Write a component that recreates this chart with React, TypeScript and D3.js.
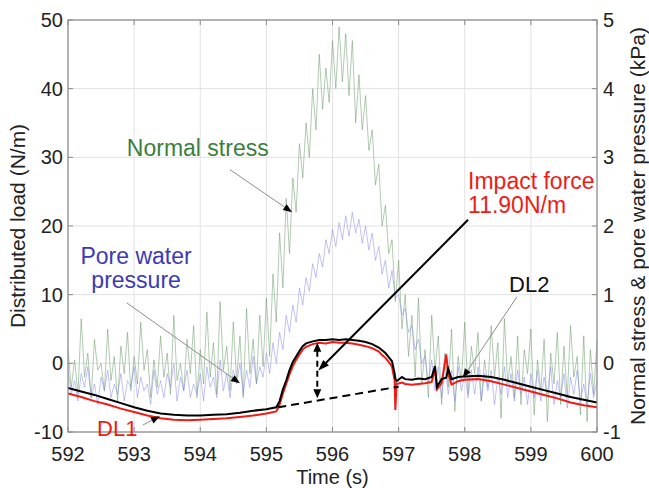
import React from 'react';
import * as d3 from 'd3';

// ---------------- data ----------------
const timeTicks = [592, 593, 594, 595, 596, 597, 598, 599, 600];
const loadTicks = [-10, 0, 10, 20, 30, 40, 50];
const kpaTicks = [-1, 0, 1, 2, 3, 4, 5];

// sampled sensor traces (kPa), one value every 0.05 s from 592.00 s
const noiseStart = 592;
const noiseStep = 0.05;
const normalStress = [
  0.2, -0.35, 0.05, -0.45, 0.65, -0.2, 0.15, -0.5, 0.35, -0.1,
  0.0, -0.4, 0.5, -0.25, 0.1, -0.55, 0.25, -0.15, 0.45, -0.4,
  0.1, -0.3, 0.6, -0.1, 0.2, -0.5, 0.05, -0.35, 0.4, -0.2,
  0.15, -0.45, 0.7, -0.25, 0.0, -0.4, 0.35, -0.15, 0.55, -0.5,
  0.2, -0.3, 0.75, -0.2, 0.3, -0.45, 0.9, -0.1, 0.25, -0.4,
  0.6, -0.25, 0.4, -0.5, 0.8, -0.15, 0.35, -0.3, 0.7, -0.05,
  0.95,
  0.1, 1.3, 0.6, 1.9, 1.1, 2.4, 1.6, 2.7, 2.2,
  3.2, 2.7, 3.5, 3.0, 4.0, 3.4, 4.5, 3.7, 4.3, 3.8,
  4.7, 4.0, 4.9, 4.1, 4.8, 3.9, 4.7, 3.5, 4.2, 3.4,
  3.9, 3.1, 3.4, 2.6, 2.9, 2.0, 2.3, 1.6, 1.8, 0.9,
  1.5, 0.5, 1.0, 0.1, 0.7, -0.2,
  0.95, -0.3, 0.2, -0.5, 0.7, -0.1, 0.4, -0.6, 0.15, -0.35,
  0.5, -0.7, 0.1, -0.25, 0.6, -0.45, 0.25, -0.15, 0.45, -0.55,
  0.05, -0.35, 0.55, -0.2, 0.3, -0.8, 0.65, -0.3, 0.1, -0.5,
  0.4, -0.6, 0.2, -0.15, 0.5, -0.75, 0.05, -0.4, 0.35, -0.85,
  0.15, -0.3, 0.45, -0.6, 0.25, -0.5, 0.55, -0.2, 0.1, -0.75,
  0.4, -0.85, 0.2, -0.45, 0.35,
];
const poreWater = [
  -0.1, -0.45, -0.25, -0.55, -0.15, -0.35, -0.05, -0.5, -0.3, -0.6,
  -0.2, -0.4, -0.1, -0.5, -0.3, -0.45, -0.15, -0.55, -0.25, -0.35,
  -0.05, -0.5, -0.2, -0.4, -0.3, -0.6, -0.1, -0.45, -0.25, -0.5,
  -0.15, -0.35, 0.0, -0.55, -0.2, -0.4, -0.1, -0.5, -0.3, -0.45,
  -0.15, -0.55, -0.05, -0.35, -0.2, -0.5, 0.05, -0.4, -0.15, -0.5,
  -0.1, -0.3, 0.0, -0.45, -0.1, -0.35, 0.1, -0.3, -0.05, -0.2,
  0.15,
  -0.15, 0.3, 0.0, 0.45, 0.2, 0.7, 0.45, 0.85, 0.6, 1.1,
  0.85, 1.25, 1.05, 1.45, 1.25, 1.6, 1.4, 1.8, 1.6, 1.95,
  1.7, 2.05, 1.8, 2.15, 1.85, 2.2, 1.9, 2.1, 1.75, 2.0,
  1.65, 1.9, 1.5, 1.7, 1.3, 1.5, 1.1, 1.35, 0.95, 1.0,
  0.7, 0.8, 0.45, 0.55, 0.2, 0.35, 0.0, 0.1, -0.3, 0.05,
  -0.4, -0.05, -0.5, 0.0, -0.45, -0.1, -0.55, -0.05, -0.4, -0.15,
  -0.5, -0.1, -0.45, -0.05, -0.55, -0.15, -0.4, -0.1, -0.6, -0.2,
  -0.45, -0.05, -0.5, -0.15, -0.55, -0.1, -0.45, -0.2, -0.6, -0.15,
  -0.5, -0.1, -0.55, -0.2, -0.45, -0.05, -0.6, -0.25, -0.5, -0.15,
  -0.65, -0.2, -0.45, -0.1, -0.55, -0.3, -0.6, -0.15, -0.5, -0.25,
];

// distributed loads (N/m)
const dlTime = [
  592.0, 592.2, 592.4, 592.6, 592.8, 593.0, 593.2, 593.4, 593.6, 593.8,
  594.0, 594.2, 594.4, 594.6, 594.8, 595.0, 595.15, 595.2, 595.25, 595.3,
  595.35, 595.4, 595.45, 595.5, 595.55, 595.6, 595.7, 595.8, 595.9, 596.0,
  596.1, 596.2, 596.3, 596.4, 596.5, 596.6, 596.7, 596.75, 596.8, 596.85,
  596.9, 596.94, 596.95, 596.97, 597.05, 597.1, 597.2, 597.3, 597.4, 597.5,
  597.55, 597.58, 597.65, 597.72, 597.75, 597.8, 597.9, 598.0, 598.2, 598.4,
  598.6, 598.8, 599.0, 599.2, 599.4, 599.6, 599.8, 600.0,
];
const dl2 = [
  -3.6, -4.1, -4.6, -5.2, -5.8, -6.4, -6.9, -7.3, -7.5, -7.6,
  -7.6, -7.5, -7.4, -7.2, -6.9, -6.7, -6.4, -5.5, -3.8, -2.5,
  -1.0, 0.2, 1.0, 1.8, 2.5, 2.9, 3.2, 3.4, 3.4, 3.5,
  3.4, 3.5, 3.4, 3.3, 3.1, 2.8, 2.3, 1.9, 1.5, 0.9,
  0.3, -1.5, -2.2, -2.6, -2.0, -2.3, -2.4, -2.2, -2.3, -2.0,
  -0.4, -3.4, -2.3, -2.1, -0.8, -2.3, -2.0, -1.9, -1.8, -2.0,
  -2.4, -2.9, -3.4, -3.9, -4.4, -4.9, -5.3, -5.7,
];
const dl1 = [
  -4.4, -4.9, -5.5, -6.0, -6.6, -7.1, -7.6, -8.0, -8.2, -8.3,
  -8.2, -8.1, -8.0, -7.8, -7.6, -7.3, -7.0, -6.0, -4.4, -3.0,
  -1.6, -0.4, 0.5, 1.3, 2.0, 2.4, 2.8, 3.0, 2.9, 3.1,
  3.0, 3.0, 2.9, 2.7, 2.5, 2.2, 1.7, 1.2, 0.8, 0.2,
  -0.5, -2.5, -6.8, -3.0, -2.8, -3.0, -3.1, -3.0, -2.9, -2.7,
  -0.8, -3.8, -2.9, 1.3, -1.5, -3.1, -2.6, -2.4, -2.3, -2.6,
  -3.1, -3.6, -4.1, -4.6, -5.1, -5.7, -6.1, -6.4,
];

// impact baseline (dashed) and impact-force bracket, in data units
const baselineT = [595.18, 597.0];
const baselineV = [-6.4, -3.4];
const bracketT = 595.77;
const bracketV = [3.0, -5.1];

// ---------------- layout ----------------
const W = 649;
const H = 488;
const M = { left: 68, right: 597, top: 20, bottom: 432 };
const FONT = "'Liberation Sans', Arial, Helvetica, sans-serif";

const x = d3.scaleLinear().domain([592, 600]).range([M.left, M.right]);
const yL = d3.scaleLinear().domain([-10, 50]).range([M.bottom, M.top]);
const yR = d3.scaleLinear().domain([-1, 5]).range([M.bottom, M.top]);

function Arrow({ x1, y1, x2, y2, stroke = '#000', sw = 1, len = 10, wid = 7, dash }: any) {
  const a = Math.atan2(y2 - y1, x2 - x1);
  const bx = x2 - len * Math.cos(a);
  const by = y2 - len * Math.sin(a);
  const px = (-Math.sin(a) * wid) / 2;
  const py = (Math.cos(a) * wid) / 2;
  return (
    <g>
      <line x1={x1} y1={y1} x2={bx + Math.cos(a)} y2={by + Math.sin(a)} stroke={stroke} strokeWidth={sw} strokeDasharray={dash} />
      <polygon points={`${x2},${y2} ${bx + px},${by + py} ${bx - px},${by - py}`} fill="#000" />
    </g>
  );
}

export default function App() {
  const noiseLineR = d3
    .line<number>()
    .x((_, i) => x(noiseStart + i * noiseStep))
    .y((d) => yR(d));
  const dlLine = (vals: number[]) =>
    d3
      .line<number>()
      .x((_, i) => x(dlTime[i]))
      .y((d) => yL(d))(vals) as string;

  const bx = x(bracketT);
  const bTop = yL(bracketV[0]);
  const bBot = yL(bracketV[1]);
  const bMid = (bTop + bBot) / 2;

  return (
    <svg width={W} height={H} style={{ position: 'absolute', left: 0, top: 0, background: '#fff' }} fontFamily={FONT}>
      <rect x={0} y={0} width={W} height={H} fill="#fff" />
      <defs>
        <clipPath id="plotclip">
          <rect x={M.left} y={M.top} width={M.right - M.left} height={M.bottom - M.top} />
        </clipPath>
      </defs>

      {/* grid */}
      <g stroke="#e2e2e2" strokeWidth={1}>
        {timeTicks.map((t) => (
          <line key={'gx' + t} x1={x(t)} x2={x(t)} y1={M.top} y2={M.bottom} />
        ))}
        {loadTicks.map((v) => (
          <line key={'gy' + v} x1={M.left} x2={M.right} y1={yL(v)} y2={yL(v)} />
        ))}
      </g>

      <g clipPath="url(#plotclip)">
        <path d={noiseLineR(normalStress) as string} fill="none" stroke="#5f955f" strokeOpacity={0.55} strokeWidth={0.9} />
        <path d={noiseLineR(poreWater) as string} fill="none" stroke="#8282ec" strokeOpacity={0.55} strokeWidth={0.9} />
        <path d={dlLine(dl1)} fill="none" stroke="#ee1c14" strokeWidth={2} />
        <path d={dlLine(dl2)} fill="none" stroke="#000" strokeWidth={2} />
        <line x1={x(baselineT[0])} y1={yL(baselineV[0])} x2={x(baselineT[1])} y2={yL(baselineV[1])} stroke="#000" strokeWidth={2} strokeDasharray="8 5" />
      </g>

      {/* bracket: impact force magnitude */}
      <line x1={bx} x2={bx} y1={bTop + 8} y2={bBot - 8} stroke="#000" strokeWidth={2} strokeDasharray="6 4" />
      <polygon points={`${bx},${bTop} ${bx - 4},${bTop + 9} ${bx + 4},${bTop + 9}`} fill="#000" />
      <polygon points={`${bx},${bBot} ${bx - 4},${bBot - 9} ${bx + 4},${bBot - 9}`} fill="#000" />

      {/* frame */}
      <rect x={M.left} y={M.top} width={M.right - M.left} height={M.bottom - M.top} fill="none" stroke="#8a8a8a" strokeWidth={1.2} />
      <g stroke="#8a8a8a">
        {timeTicks.map((t) => (
          <g key={'tx' + t}>
            <line x1={x(t)} x2={x(t)} y1={M.bottom} y2={M.bottom - 5} />
            <line x1={x(t)} x2={x(t)} y1={M.top} y2={M.top + 5} />
          </g>
        ))}
        {loadTicks.map((v) => (
          <g key={'ty' + v}>
            <line x1={M.left} x2={M.left + 5} y1={yL(v)} y2={yL(v)} />
            <line x1={M.right} x2={M.right - 5} y1={yL(v)} y2={yL(v)} />
          </g>
        ))}
      </g>

      {/* tick labels */}
      <g fontSize={20} fill="#222">
        {timeTicks.map((t) => (
          <text key={'lx' + t} x={x(t)} y={M.bottom + 29} textAnchor="middle">
            {t}
          </text>
        ))}
        {loadTicks.map((v) => (
          <text key={'ly' + v} x={M.left - 5} y={yL(v) + 7} textAnchor="end">
            {v}
          </text>
        ))}
        {kpaTicks.map((v) => (
          <text key={'lr' + v} x={M.right + 6} y={yR(v) + 7} textAnchor="start">
            {v}
          </text>
        ))}
      </g>

      {/* axis titles */}
      <text x={(M.left + M.right) / 2} y={484} textAnchor="middle" fontSize={20} fill="#222">
        Time (s)
      </text>
      <text transform={`translate(25,${(M.top + M.bottom) / 2}) rotate(-90)`} textAnchor="middle" fontSize={21} fill="#222">
        Distributed load (N/m)
      </text>
      <text transform={`translate(645,${(M.top + M.bottom) / 2}) rotate(-90)`} textAnchor="middle" fontSize={21} fill="#222">
        Normal stress &amp; pore water pressure (kPa)
      </text>

      {/* annotations */}
      <text x={x(592.89)} y={yL(30.2)} fontSize={23} fill="#3c7f3c">
        Normal stress
      </text>
      <Arrow x1={x(594.45)} y1={yL(28.2)} x2={x(595.39)} y2={yL(22.0)} stroke="#8c8c8c" sw={1} len={9} wid={7} />

      <text x={x(593.03)} y={yL(14.5)} fontSize={23} fill="#3b3bb4" textAnchor="middle">
        Pore water
      </text>
      <text x={x(593.03)} y={yL(11.0)} fontSize={23} fill="#3b3bb4" textAnchor="middle">
        pressure
      </text>
      <Arrow x1={x(592.89)} y1={yL(8.8)} x2={x(594.6)} y2={yL(-2.9)} stroke="#8c8c8c" sw={1} len={9} wid={7} />

      <text x={x(592.44)} y={yL(-10.6)} fontSize={22} fill="#ee1c14">
        DL1
      </text>
      <Arrow x1={x(593.13)} y1={yL(-9.0)} x2={x(593.39)} y2={yL(-7.7)} stroke="#8c8c8c" sw={1} len={9} wid={7} />

      <text x={x(598.67)} y={yL(10.4)} fontSize={22} fill="#111">
        DL2
      </text>
      <Arrow x1={x(598.79)} y1={yL(9.7)} x2={x(597.97)} y2={yL(-2.1)} stroke="#8c8c8c" sw={1} len={9} wid={7} />

      <text x={x(598.05)} y={yL(25.4)} fontSize={23} fill="#ee1c14">
        Impact force
      </text>
      <text x={x(598.05)} y={yL(21.9)} fontSize={23} fill="#ee1c14">
        11.90N/m
      </text>
      <Arrow x1={x(598.05)} y1={yL(20.9)} x2={bx + 1} y2={bMid} stroke="#000" sw={2} len={11} wid={8} />
    </svg>
  );
}
